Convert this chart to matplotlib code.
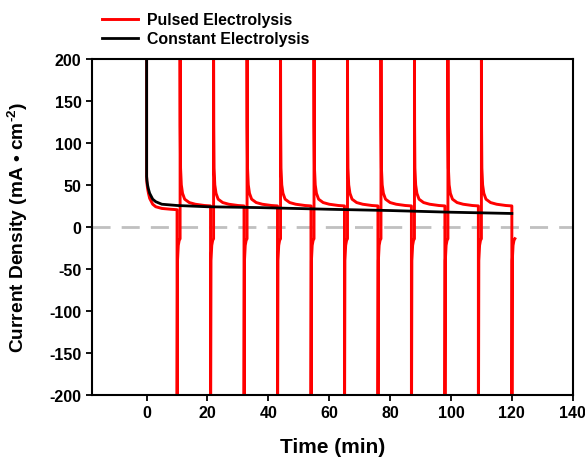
import numpy as np
import matplotlib
matplotlib.use('Agg')
import matplotlib.pyplot as plt
from matplotlib.lines import Line2D

plt.rcParams['font.family'] = ['Liberation Sans', 'DejaVu Sans']
plt.rcParams['font.weight'] = 'bold'
plt.rcParams['mathtext.fontset'] = 'custom'
plt.rcParams['mathtext.bf'] = 'Liberation Sans:bold'
plt.rcParams['mathtext.rm'] = 'Liberation Sans:bold'
plt.rcParams['axes.unicode_minus'] = False

# Constant electrolysis (min, mA/cm2)
const_t = [0, 0, 0.1, 0.3, 0.6, 1, 2, 3, 5, 10, 20, 37, 60, 80, 100, 120]
const_j = [200, 60, 55, 50, 45, 40, 33, 30, 27, 25.5, 24, 23, 21, 19.5, 17.5, 16]

# Pulsed electrolysis: first "on" period
first_t = [0, 0, 0.1, 0.3, 0.6, 1, 2, 3, 5, 8, 10]
first_j = [200, 60, 52, 46, 40, 34, 27, 24, 22, 21, 20.5]

# switch-off times (min)
off_times = [10, 21, 32, 43, 54, 65, 76, 87, 98, 109, 120]

# shape of the "off" part (min after switch-off, mA/cm2)
off_dt = [0, 0.05, 0.15, 0.4, 0.7, 1.0]
off_j = [-210, -210, -40, -22, -16, -14]

# shape of the "on" part (min after switch-on, mA/cm2)
on_dt = [0, 0.05, 0.15, 0.4, 0.8, 1.5, 3, 5, 8, 10]
on_j = [210, 120, 70, 50, 40, 33, 29, 27, 25.5, 25]

pulse_t = list(first_t)
pulse_j = list(first_j)
for k, t0 in enumerate(off_times):
    pulse_t += [t0 + d for d in off_dt]
    pulse_j += off_j
    if k < len(off_times) - 1:
        pulse_t += [t0 + 1 + d for d in on_dt]
        pulse_j += on_j

fig = plt.figure(figsize=(5.85, 4.6), dpi=100)
ax = fig.add_axes([0.157, 0.139, 0.822, 0.731])

ax.axhline(0, color='#c0c0c0', lw=2, dashes=(6.5, 4), zorder=1)
ax.plot(pulse_t, pulse_j, color='#ff0000', lw=2.1, zorder=2)
ax.plot(const_t, const_j, color='black', lw=2.0, zorder=3)

ax.set_xlim(-18, 140)
ax.set_ylim(-200, 200)
ax.set_xticks(range(0, 141, 20))
ax.set_yticks(range(-200, 201, 50))
ax.tick_params(direction='out', length=4, width=1.3, labelsize=11.5)
for lab in ax.get_xticklabels() + ax.get_yticklabels():
    lab.set_fontweight('bold')
for s in ax.spines.values():
    s.set_linewidth(1.5)

ax.set_xlabel('Time (min)', fontsize=15, fontweight='bold', labelpad=12)
ax.set_ylabel(r'Current Density (mA • cm$^{\mathbf{\text{-}2}}$)', fontsize=13.8,
              fontweight='bold', labelpad=14)

handles = [Line2D([], [], color='#ff0000', lw=2.1),
           Line2D([], [], color='black', lw=2.0)]
fig.legend(handles, ['Pulsed Electrolysis', 'Constant Electrolysis'],
           loc='upper left', bbox_to_anchor=(0.155, 0.995), frameon=False,
           handlelength=2.3, handletextpad=0.55,
           labelspacing=0.25, borderaxespad=0.3,
           prop={'weight': 'bold', 'size': 11.4})

fig.savefig('out.png', dpi=100)
